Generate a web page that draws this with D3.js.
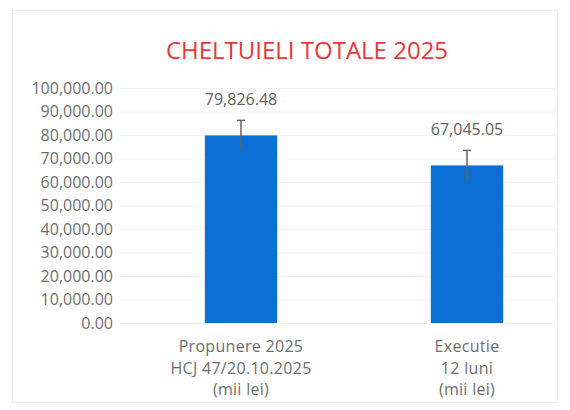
<!DOCTYPE html>
<html>
<head>
<meta charset="utf-8">
<script src="https://cdn.jsdelivr.net/npm/d3@7"></script>
<style>
  body { margin: 0; background: #fff; }
  text { font-family: "Open Sans", sans-serif; }
</style>
</head>
<body>
<script>
// data
var categories = [
  ["Propunere 2025", "HCJ 47/20.10.2025", "(mii lei)"],
  ["Executie", "12 luni", "(mii lei)"]
];
var values = [79826.48, 67045.05];
var errors = [6390.7, 6390.7];   // standard error bars
var yTicks = [0, 10000, 20000, 30000, 40000, 50000, 60000, 70000, 80000, 90000, 100000];
var title = "CHELTUIELI TOTALE 2025";

var width = 570, height = 410;

var svg = d3.select("body").
  append("svg").
  attr("width", width).
  attr("height", height);

// faint chart border
svg.append("rect").
  attr("x", 12.5).attr("y", 10.5).
  attr("width", 545).attr("height", 392).
  attr("fill", "none").
  attr("stroke", "#ececec");

svg.append("text").
  attr("x", 307).
  attr("y", 59).
  attr("text-anchor", "middle").
  attr("fill", "#e8383a").
  attr("font-size", 24).
  text(title);

var y = d3.scaleLinear().domain([0, 100000]).range([323, 88]);
var x = d3.scaleBand().
  domain(d3.range(categories.length)).
  range([128, 580]).
  paddingInner(0.68).
  paddingOuter(0.34);

// gridlines
svg.append("g").
  attr("transform", "translate(120,0)").
  call(d3.axisLeft(y).tickValues(yTicks).tickSize(-435).tickFormat("")).
  call(function(g) {
    g.select(".domain").remove();
    g.selectAll("line").attr("stroke", "#f2f2f2");
  });

// y axis labels
svg.append("g").
  attr("transform", "translate(113,0)").
  call(d3.axisLeft(y).tickValues(yTicks).tickSize(0).tickPadding(0).tickFormat(d3.format(",.2f"))).
  call(function(g) {
    g.select(".domain").remove();
    g.selectAll("text").
      attr("fill", "#6e6e6e").
      attr("font-size", 16).
      attr("font-family", "Open Sans, sans-serif");
  });

var bars = svg.selectAll(".bar").data(values);

bars.enter().append("rect").
  attr("class", "bar").
  attr("x", function(d, i) { return x(i); }).
  attr("width", x.bandwidth()).
  attr("y", function(d) { return y(d); }).
  attr("height", function(d) { return y(0) - y(d); }).
  attr("fill", "#0b6fd6");

// error bars
var err = svg.selectAll(".err").data(values).enter().append("g").attr("class", "err");
err.append("line").
  attr("x1", function(d, i) { return x(i) + x.bandwidth() / 2; }).
  attr("x2", function(d, i) { return x(i) + x.bandwidth() / 2; }).
  attr("y1", function(d, i) { return y(d + errors[i]); }).
  attr("y2", function(d, i) { return y(d - errors[i]); }).
  attr("stroke", "#6a6060").
  attr("stroke-width", 1.5);
err.append("line").
  attr("x1", function(d, i) { return x(i) + x.bandwidth() / 2 - 4; }).
  attr("x2", function(d, i) { return x(i) + x.bandwidth() / 2 + 4; }).
  attr("y1", function(d, i) { return y(d + errors[i]); }).
  attr("y2", function(d, i) { return y(d + errors[i]); }).
  attr("stroke", "#6a6060").
  attr("stroke-width", 1.5);

// value labels
svg.selectAll(".val").data(values).enter().append("text").
  attr("class", "val").
  attr("x", function(d, i) { return x(i) + x.bandwidth() / 2; }).
  attr("y", function(d) { return y(d) - 30; }).
  attr("text-anchor", "middle").
  attr("fill", "#5f5f5f").
  attr("font-size", 16).
  text(function(d) { return d3.format(",.2f")(d); });

// category labels
var cat = svg.selectAll(".cat").data(categories).enter().append("text").
  attr("class", "cat").
  attr("x", function(d, i) { return x(i) + x.bandwidth() / 2; }).
  attr("y", 352).
  attr("text-anchor", "middle").
  attr("fill", "#6e6e6e").
  attr("font-size", 16).
  attr("letter-spacing", 0.3);

cat.selectAll("tspan").data(function(d) { return d; }).enter().append("tspan").
  attr("x", function() { return d3.select(this.parentNode).attr("x"); }).
  attr("dy", function(d, j) { return j === 0 ? 0 : 21.5; }).
  text(function(d) { return d; });
</script>
</body>
</html>
